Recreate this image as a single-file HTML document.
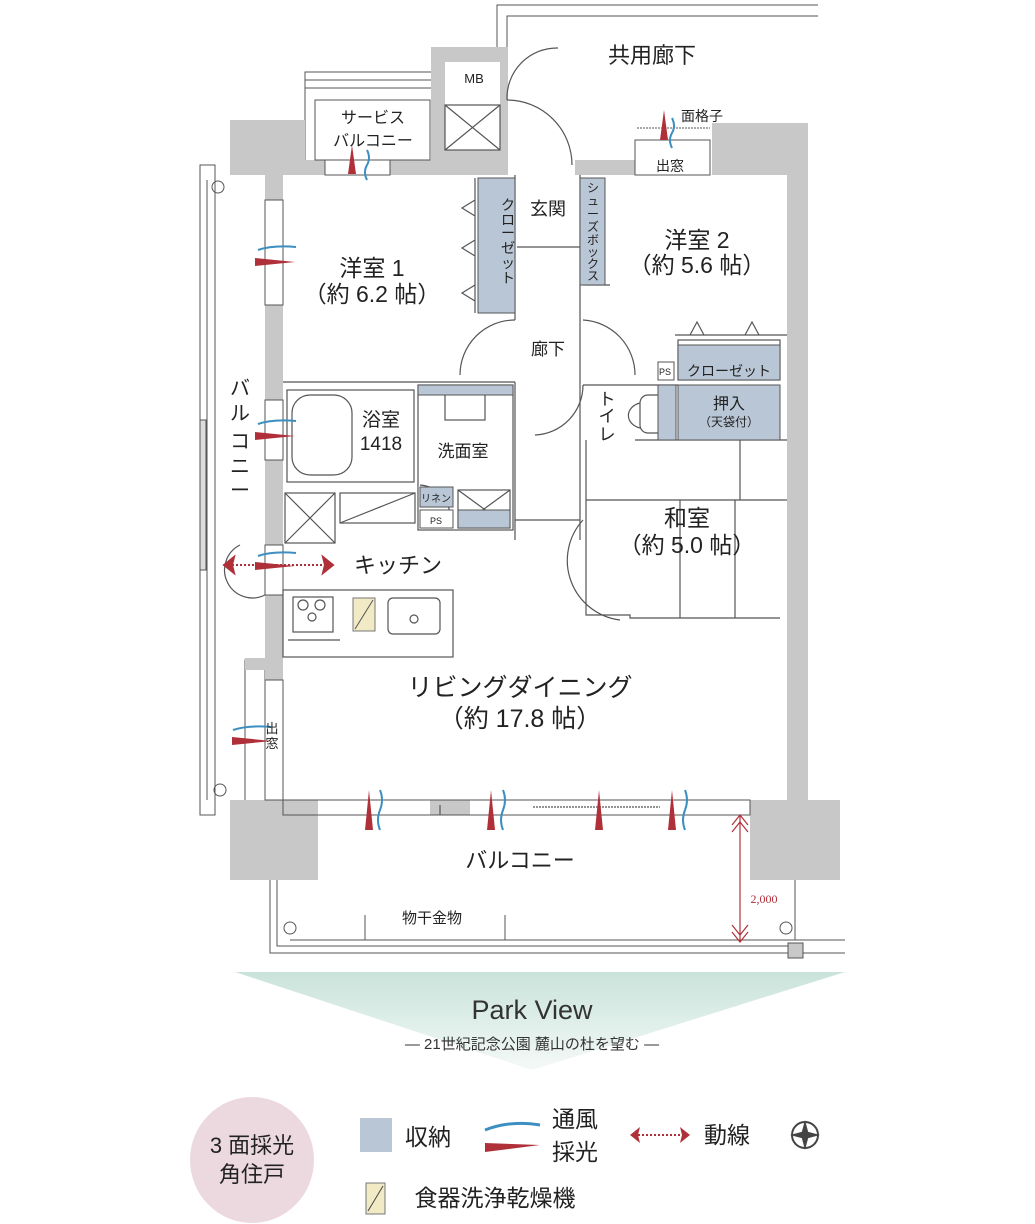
<!DOCTYPE html>
<html><head><meta charset="utf-8"><style>
html,body{margin:0;padding:0;background:#fff}
svg{display:block}
text{font-family:"Liberation Sans","Noto Sans CJK JP",sans-serif;fill:#222}
</style></head><body>
<svg width="1035" height="1224" viewBox="0 0 1035 1224" xmlns="http://www.w3.org/2000/svg">
<defs>
<linearGradient id="g" x1="0" y1="0" x2="0" y2="1"><stop offset="0" stop-color="#c9e3da"/><stop offset="1" stop-color="#f4f9f7"/></linearGradient>
</defs>
<g stroke="#555" stroke-width="1" fill="none">
<polyline points="497,48 497,5 818,5"/><polyline points="507,48 507,16 818,16"/>
<rect x="200" y="165" width="15" height="650"/><line x1="207" y1="180" x2="207" y2="800"/>
<rect x="200" y="420" width="6" height="150" fill="#ddd"/>
<rect x="305" y="72" width="128" height="90"/><line x1="305" y1="80" x2="433" y2="80"/><line x1="305" y1="88" x2="433" y2="88"/>
<circle cx="422" cy="118" r="6"/><circle cx="218" cy="187" r="6"/>
<polyline points="270,880 270,953 800,953"/><polyline points="277,880 277,946 800,946"/>
<line x1="290" y1="940" x2="845" y2="940"/><line x1="800" y1="953" x2="845" y2="953"/>
<line x1="795" y1="880" x2="795" y2="940"/>
<circle cx="290" cy="928" r="6"/><circle cx="786" cy="928" r="6"/>
<line x1="365" y1="915" x2="365" y2="940"/><line x1="505" y1="915" x2="505" y2="940"/>
<rect x="245" y="660" width="20" height="145"/><circle cx="220" cy="790" r="6"/>
</g>
<rect x="788" y="943" width="15" height="15" fill="#c8c8c8" stroke="#555"/>
<g fill="#c8c8c8">
<rect x="230" y="120" width="75" height="55"/>
<rect x="265" y="120" width="18" height="680"/>
<rect x="283" y="160" width="190" height="15"/>
<path d="M431,47 H508 V175 H431 Z M445,62 V150 H500 V62 Z" fill-rule="evenodd"/>
<rect x="575" y="160" width="62" height="15"/>
<rect x="712" y="123" width="96" height="52"/>
<rect x="787" y="123" width="21" height="677"/>
<rect x="230" y="800" width="88" height="80"/>
<rect x="750" y="800" width="90" height="80"/>
<rect x="245" y="658" width="38" height="12"/>
<rect x="430" y="800" width="40" height="15"/>
<rect x="283" y="800" width="467" height="15" fill="none" stroke="#555"/>
</g>
<rect x="315" y="100" width="115" height="60" fill="#fff" stroke="#555"/>
<rect x="325" y="160" width="65" height="15" fill="#fff" stroke="#555"/>
<rect x="635" y="140" width="75" height="35" fill="#fff" stroke="#555"/>
<line x1="637" y1="128" x2="710" y2="128" stroke="#555" stroke-dasharray="2,1"/>
<g fill="#fff" stroke="#555">
<rect x="265" y="200" width="18" height="105"/><rect x="265" y="400" width="18" height="60"/>
<rect x="265" y="545" width="18" height="50"/><rect x="265" y="680" width="18" height="120"/>
</g>
<g stroke="#555" stroke-width="1.2" fill="none">
<rect x="445" y="105" width="55" height="45"/><path d="M445,105 L500,150 M500,105 L445,150"/>
<path d="M507,100 A50,50 0 0 1 558,48"/><path d="M507,100 A65,65 0 0 1 572,165"/>
<line x1="283" y1="382" x2="515" y2="382"/>
<line x1="515" y1="175" x2="515" y2="320"/><line x1="515" y1="382" x2="515" y2="540"/>
<line x1="517" y1="247" x2="580" y2="247"/>
<line x1="580" y1="175" x2="580" y2="540"/>
<line x1="583" y1="285" x2="610" y2="285"/>
<path d="M515,320 A55,55 0 0 0 460,375"/>
<path d="M583,320 A55,55 0 0 1 635,375"/>
<path d="M583,385 A50,50 0 0 1 535,435"/>
<path d="M583,520 A60,60 0 0 0 620,620"/>
<rect x="678" y="340" width="102" height="40"/>
<line x1="635" y1="440" x2="787" y2="440"/><line x1="583" y1="385" x2="678" y2="385"/>
<line x1="675" y1="335" x2="787" y2="335"/>
<path d="M690,335 L697,322 L704,335 M745,335 L752,322 L759,335"/>
<path d="M475,200 L462,208 L475,216 M475,240 L462,248 L475,256 M475,285 L462,293 L475,301"/>
<line x1="475" y1="178" x2="475" y2="313"/>
<rect x="287" y="390" width="127" height="92"/><rect x="292" y="395" width="60" height="80" rx="18"/>
<rect x="418" y="385" width="95" height="145"/>
<rect x="445" y="390" width="40" height="30"/>
<rect x="285" y="493" width="50" height="50"/><path d="M285,493 L335,543 M335,493 L285,543"/>
<rect x="340" y="493" width="75" height="30"/><path d="M340,523 L415,493"/>
<rect x="458" y="490" width="52" height="38"/><path d="M458,490 L510,528 M510,490 L458,528"/>
<path d="M420,485 A32,32 0 0 1 450,517"/>
<line x1="515" y1="520" x2="580" y2="520"/>
<polyline points="586,440 586,615 630,615 630,618 780,618"/>
<line x1="586" y1="500" x2="787" y2="500"/><line x1="740" y1="440" x2="740" y2="500"/>
<line x1="680" y1="500" x2="680" y2="618"/><line x1="735" y1="500" x2="735" y2="618"/>
<rect x="283" y="590" width="170" height="67"/>
<rect x="293" y="597" width="40" height="35"/><circle cx="303" cy="605" r="5"/><circle cx="320" cy="605" r="5"/><circle cx="312" cy="617" r="4"/>
<line x1="288" y1="640" x2="340" y2="640"/>
<rect x="388" y="598" width="52" height="36" rx="5"/><circle cx="414" cy="619" r="4"/>
<path d="M240,545 A25,25 0 0 0 265,595"/>
<rect x="640" y="395" width="28" height="38" rx="8"/><path d="M640,403 A16,13 0 0 0 640,428"/>
<line x1="440" y1="805" x2="440" y2="815"/>
<line x1="533" y1="807" x2="660" y2="807" stroke-dasharray="2,1"/>
</g>
<g fill="#b9c6d5" stroke="#555">
<rect x="478" y="178" width="37" height="135"/>
<rect x="580" y="178" width="25" height="107"/>
<rect x="678" y="345" width="102" height="35"/>
<rect x="678" y="385" width="102" height="55"/>
<rect x="658" y="385" width="18" height="55"/>
<rect x="420" y="487" width="33" height="20"/>
<rect x="458" y="510" width="52" height="18"/>
<rect x="418" y="385" width="95" height="10"/>
</g>
<rect x="420" y="510" width="33" height="18" fill="#fff" stroke="#555"/>
<rect x="658" y="362" width="16" height="18" fill="#fff" stroke="#555"/>
<rect x="353" y="598" width="22" height="33" fill="#f1eac4" stroke="#777"/>
<line x1="355" y1="629" x2="373" y2="600" stroke="#555"/>
<g fill="#b0303a">
<path d="M348,174 L352,145 L356,174 Z"/><path d="M660,140 L664,110 L668,140 Z"/>
<path d="M255,262 L295,258 L295,266 Z" transform="rotate(180 275 262)"/>
<path d="M255,436 L295,432 L295,440 Z" transform="rotate(180 275 436)"/>
<path d="M255,566 L295,562 L295,570 Z" transform="rotate(180 275 566)"/>
<path d="M232,741 L272,737 L272,745 Z" transform="rotate(180 252 741)"/>
<path d="M365,830 L369,790 L373,830 Z"/><path d="M487,830 L491,790 L495,830 Z"/>
<path d="M595,830 L599,790 L603,830 Z"/><path d="M668,830 L672,790 L676,830 Z"/>
</g>
<g stroke="#3c8fc0" stroke-width="2" fill="none">
<path d="M367,150 q4,8 0,15 t0,15"/><path d="M672,118 q4,8 0,15 t0,15"/>
<path d="M258,250 q15,-5 38,-3"/><path d="M258,424 q15,-5 38,-3"/><path d="M258,556 q15,-5 38,-3"/><path d="M233,730 q15,-5 38,-3"/>
<path d="M380,790 q4,10 0,20 t0,20"/><path d="M503,790 q4,10 0,20 t0,20"/><path d="M685,790 q4,10 0,20 t0,20"/>
</g>
<g stroke="#b0303a" stroke-width="2" fill="#b0303a">
<line x1="232" y1="565" x2="325" y2="565" stroke-dasharray="2,2"/>
<path d="M224,565 L234,557 L232,565 L234,573 Z"/><path d="M333,565 L323,557 L325,565 L323,573 Z"/>
<line x1="740" y1="815" x2="740" y2="942" stroke-width="1.2"/>
<path d="M732,825 L740,815 L748,825 M732,832 L740,822 L748,832 M732,932 L740,942 L748,932 M732,925 L740,935 L748,925" fill="none" stroke-width="1.2"/>
</g>
<text x="652" y="63" font-size="22" text-anchor="middle">共用廊下</text>
<text x="474" y="83" font-size="13" text-anchor="middle">MB</text>
<text x="373" y="123" font-size="16" text-anchor="middle">サービス</text>
<text x="373" y="146" font-size="16" text-anchor="middle">バルコニー</text>
<text x="702" y="121" font-size="14" text-anchor="middle">面格子</text>
<text x="670" y="171" font-size="14" text-anchor="middle">出窓</text>
<text x="372" y="276" font-size="23" text-anchor="middle">洋室 1</text>
<text x="372" y="302" font-size="23" text-anchor="middle">（約 6.2 帖）</text>
<text x="548" y="215" font-size="18" text-anchor="middle">玄関</text>
<text x="697" y="248" font-size="23" text-anchor="middle">洋室 2</text>
<text x="697" y="273" font-size="23" text-anchor="middle">（約 5.6 帖）</text>
<text x="548" y="355" font-size="17" text-anchor="middle">廊下</text>
<text x="665" y="375" font-size="9" text-anchor="middle">PS</text>
<text x="729" y="376" font-size="14" text-anchor="middle">クローゼット</text>
<text x="729" y="409" font-size="16" text-anchor="middle">押入</text>
<text x="729" y="426" font-size="12" text-anchor="middle">（天袋付）</text>
<text x="381" y="426" font-size="19" text-anchor="middle">浴室</text>
<text x="381" y="450" font-size="19" text-anchor="middle">1418</text>
<text x="463" y="457" font-size="17" text-anchor="middle">洗面室</text>
<text x="436" y="502" font-size="10" text-anchor="middle">リネン</text>
<text x="436" y="524" font-size="9" text-anchor="middle">PS</text>
<text x="687" y="526" font-size="23" text-anchor="middle">和室</text>
<text x="687" y="553" font-size="23" text-anchor="middle">（約 5.0 帖）</text>
<text x="398" y="573" font-size="22" text-anchor="middle">キッチン</text>
<text x="520" y="696" font-size="25" text-anchor="middle">リビングダイニング</text>
<text x="520" y="727" font-size="25" text-anchor="middle">（約 17.8 帖）</text>
<text x="520" y="868" font-size="22" text-anchor="middle">バルコニー</text>
<text x="432" y="923" font-size="15" text-anchor="middle">物干金物</text>
<text x="764" y="903" font-size="12" style="fill:#b0303a;font-family:'Liberation Serif',serif" text-anchor="middle">2,000</text>
<g font-size="14" text-anchor="middle">
<text x="508" y="210">ク</text><text x="508" y="225">ロ</text><text x="508" y="238">ー</text><text x="508" y="253">ゼ</text><text x="508" y="268">ッ</text><text x="508" y="283">ト</text>
<text x="593" y="192" font-size="12">シ</text><text x="593" y="205" font-size="12">ュ</text><text x="593" y="218" font-size="12">ー</text><text x="593" y="231" font-size="12">ズ</text><text x="593" y="244" font-size="12">ボ</text><text x="593" y="256" font-size="12">ッ</text><text x="593" y="268" font-size="12">ク</text><text x="593" y="280" font-size="12">ス</text>
<text x="607" y="405" font-size="17">ト</text><text x="607" y="422" font-size="17">イ</text><text x="607" y="440" font-size="17">レ</text>
<text x="240" y="395" font-size="20">バ</text><text x="240" y="420" font-size="20">ル</text><text x="240" y="448" font-size="20">コ</text><text x="240" y="473" font-size="20">ニ</text><text x="240" y="497" font-size="20">ー</text>
<text x="272" y="733" font-size="13">出</text><text x="272" y="748" font-size="13">窓</text>
</g>
<path d="M235,972 L845,972 L532,1070 Z" fill="url(#g)"/>
<text x="532" y="1019" font-size="27" text-anchor="middle" style="font-family:'Liberation Sans',sans-serif;fill:#333">Park View</text>
<text x="532" y="1049" font-size="15" text-anchor="middle" style="fill:#333">― 21世紀記念公園 麓山の杜を望む ―</text>
<ellipse cx="252" cy="1160" rx="62" ry="63" fill="#ecd9df"/>
<text x="252" y="1153" font-size="22" text-anchor="middle">3 面採光</text>
<text x="252" y="1182" font-size="22" text-anchor="middle">角住戸</text>
<rect x="360" y="1118" width="32" height="34" fill="#b9c6d5"/>
<text x="428" y="1145" font-size="23" text-anchor="middle">収納</text>
<path d="M485,1130 q25,-10 55,-5" stroke="#3c8fc0" stroke-width="3" fill="none"/>
<path d="M485,1143 L540,1145 L485,1152 Z" fill="#b0303a"/>
<text x="575" y="1127" font-size="23" text-anchor="middle">通風</text>
<text x="575" y="1160" font-size="23" text-anchor="middle">採光</text>
<line x1="638" y1="1135" x2="682" y2="1135" stroke="#b0303a" stroke-width="2" stroke-dasharray="2,2"/>
<path d="M630,1135 L640,1127 L638,1135 L640,1143 Z M690,1135 L680,1127 L682,1135 L680,1143 Z" fill="#b0303a"/>
<text x="727" y="1143" font-size="23" text-anchor="middle">動線</text>
<circle cx="805" cy="1135" r="13" fill="none" stroke="#444" stroke-width="2"/>
<path d="M805,1120 L809,1135 L805,1150 L801,1135 Z M790,1135 L805,1131 L820,1135 L805,1139 Z" fill="#444"/>
<rect x="366" y="1183" width="19" height="31" fill="#f1eac4" stroke="#777"/>
<line x1="368" y1="1211" x2="383" y2="1186" stroke="#444"/>
<text x="495" y="1206" font-size="23" text-anchor="middle">食器洗浄乾燥機</text>
</svg>
</body></html>
